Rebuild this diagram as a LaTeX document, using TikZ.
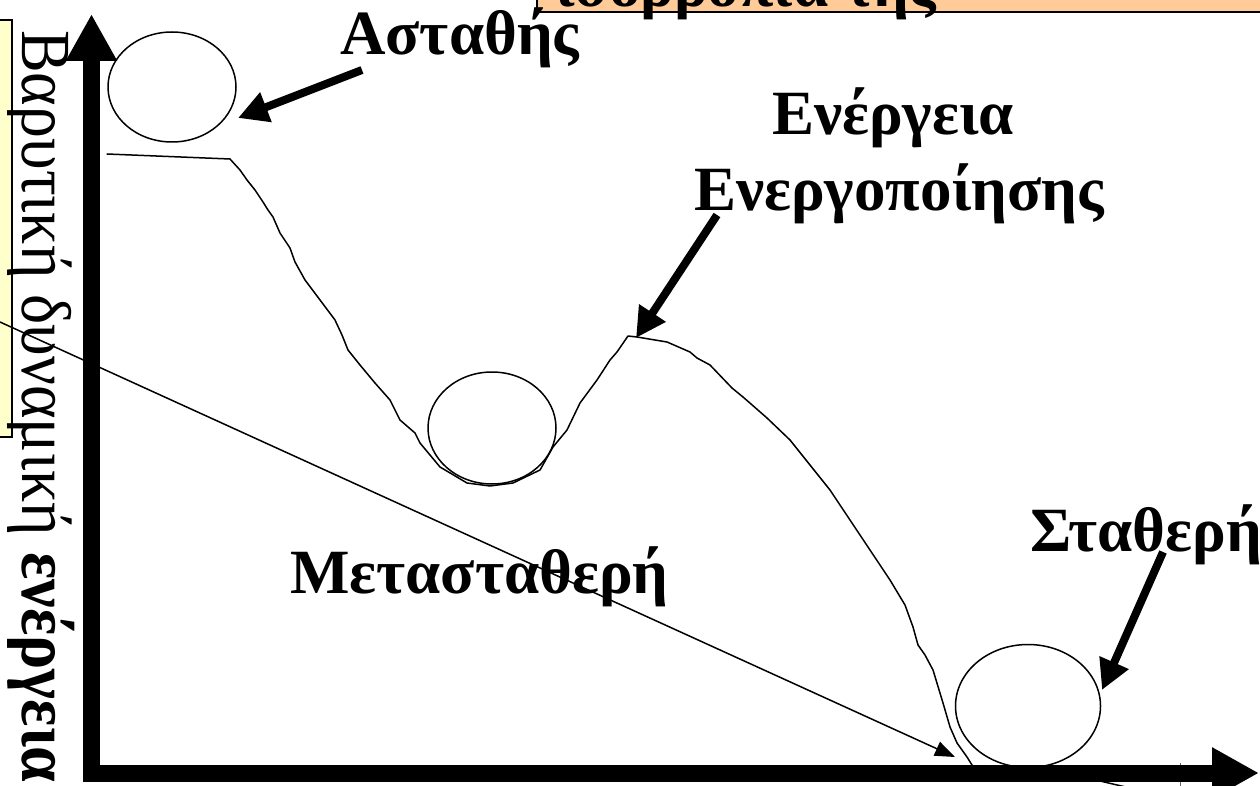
\documentclass[tikz,border=0pt]{standalone}
\usepackage{fontspec}
\setmainfont{Liberation Serif}
\usetikzlibrary{arrows.meta,shapes.geometric}
\definecolor{paleyellow}{HTML}{FFFFCC}
\definecolor{paleorange}{HTML}{FFCC99}
\begin{document}
\begin{tikzpicture}[x=1pt,y=-1pt,
  lbl/.style={font=\fontsize{63}{65}\selectfont\bfseries, inner sep=0pt, anchor=base west},
  ball/.style={draw, ellipse, line width=1.5pt, inner sep=0pt},
  curveline/.style={line width=1.5pt, line join=round, line cap=round},
  pointer/.style={line width=8pt, -{Triangle[length=30pt,width=30pt]}},
  axisline/.style={line width=17pt, -{Triangle[length=47pt,width=48pt]}},
  thinarrow/.style={line width=1.5pt, -{Triangle[length=20pt,width=15pt]}},
  panel/.style={draw, line width=2pt, inner sep=0pt},
]
\useasboundingbox (0,0) rectangle (1260,786);

% boxes partly outside the picture
\node[panel, fill=paleyellow, minimum width=30pt, minimum height=417pt] (ybox) at (-3,228.5) {};
\node[panel, fill=paleorange, minimum width=740pt, minimum height=80pt] (obox) at (907,-28) {};
\node[lbl] (otext) at (555,7) {ισορροπία της};

% energy profile
\draw[curveline] (107,154) -- (230,159) -- (240,170) -- (247,180) -- (255,190) -- (263,202)
  -- (268,210) -- (273,217) -- (280,233) -- (290,248) -- (295,262) -- (305,280) -- (320,300)
  -- (335,320) -- (342,335) -- (348,350) -- (360,365) -- (375,383) -- (390,400) -- (400,420)
  -- (415,433) -- (420,443) -- (440,467) -- (467,483) -- (490,486) -- (513,483) -- (540,470)
  -- (553,447) -- (567,430) -- (580,403) -- (597,380) -- (610,360) -- (617,352) -- (628,336)
  -- (637,337) -- (667,342) -- (690,352) -- (697,358) -- (710,365) -- (732,388) -- (743,397)
  -- (767,418) -- (790,440) -- (810,465) -- (830,490) -- (850,520) -- (870,550) -- (890,580)
  -- (905,605) -- (913,627) -- (918,645) -- (925,655) -- (933,670) -- (943,703) -- (950,727)
  -- (957,743) -- (967,757) -- (972,765) -- (980,772);

% balls
\node[ball, minimum width=128pt, minimum height=110pt] (b1) at (172,87) {};
\node[ball, minimum width=128pt, minimum height=112pt] (b2) at (492,428) {};
\node[ball, minimum width=145pt, minimum height=123pt] (b3) at (1028,706) {};

% thin diagonal line
\coordinate (ls) at (0,322);
\coordinate (le) at (955,757);
\draw[thinarrow] (ls) -- (le);
\coordinate (l2s) at (1100,781);
\coordinate (l2e) at (1160,795);
\draw[line width=1.5pt] (l2s) -- (l2e);
\coordinate (tks) at (1180,763);
\coordinate (tke) at (1180,790);
\draw[line width=1pt, black!60] (tks) -- (tke);

% axes
\coordinate (ytop) at (91.5,14);
\coordinate (xend) at (1259,773);
\coordinate (ybot) at (91.5,781.5);
\coordinate (xbeg) at (83,773);
\draw[axisline] (ybot) -- (ytop);
\draw[axisline] (xbeg) -- (xend);

% labels
\node[lbl] (unstable) at (340,55) {Ασταθής};
\node[lbl] (energy1) at (772,135) {Ενέργεια};
\node[lbl] (energy2) at (694,211) {Ενεργοποίησης};
\node[lbl] (stable) at (1030,551) {Σταθερή};
\node[lbl] (meta) at (290,593) {Μετασταθερή};

% vertical axis label
\node[rotate=-90, anchor=base west, inner sep=0pt, font=\fontsize{64}{64}\selectfont] (ylab) at (22,30) {\scalebox{1}[1.1]{Βαρυτική δυναμική \textbf{ενέργεια}}};

% pointers
\coordinate (p1s) at (362,70);
\coordinate (p1e) at (238,118);
\coordinate (p2s) at (717,215);
\coordinate (p2e) at (636,338);
\coordinate (p3s) at (1163,552);
\coordinate (p3e) at (1102,690);
\draw[pointer] (p1s) -- (p1e);
\draw[pointer] (p2s) -- (p2e);
\draw[pointer] (p3s) -- (p3e);
\end{tikzpicture}
\end{document}
